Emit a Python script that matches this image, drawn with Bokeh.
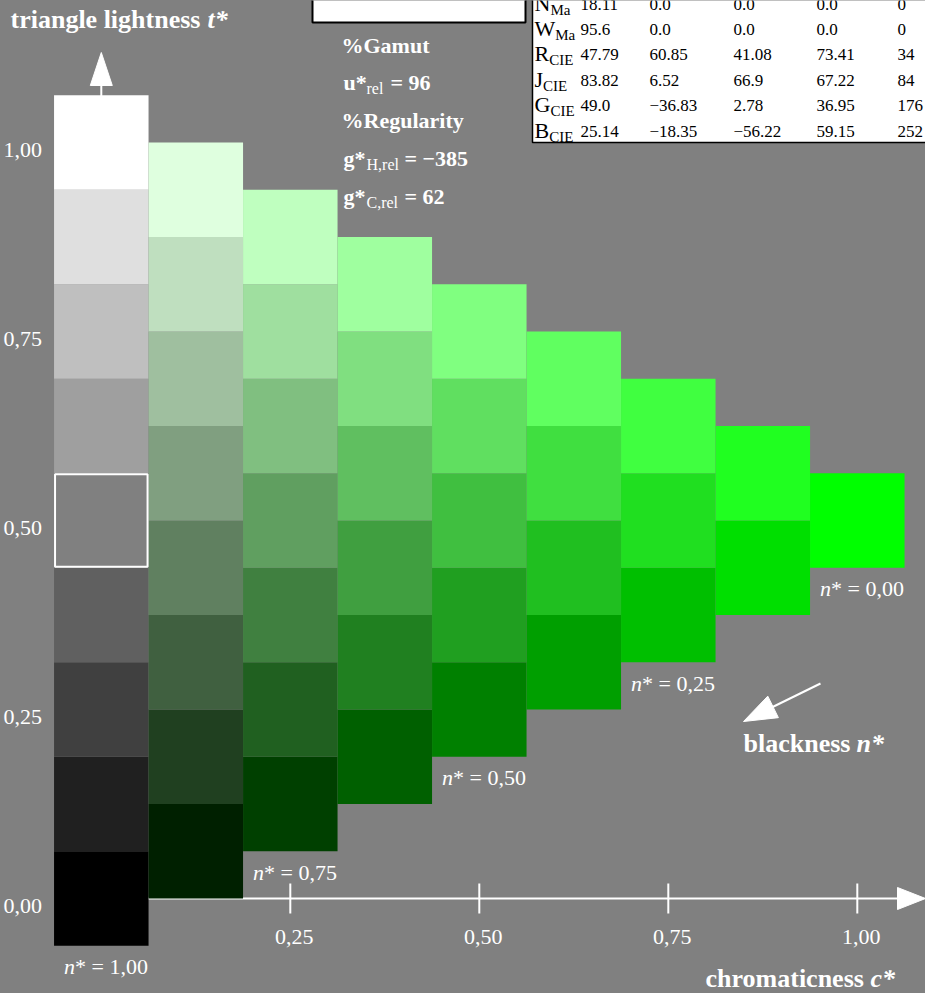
from bokeh.plotting import figure
from bokeh.models import Range1d
from bokeh.embed import file_html
from bokeh.resources import INLINE
from bokeh.core.properties import value

# ---------------- data ----------------
steps = 8
chroma_levels = [0.0, 0.125, 0.25, 0.375, 0.5, 0.625, 0.75, 0.875, 1.0]
white_levels = [0.0, 0.125, 0.25, 0.375, 0.5, 0.625, 0.75, 0.875, 1.0]
hue_rgb = [0, 255, 0]
highlight_c, highlight_t = 0.0, 0.5
c_ticks = [0.25, 0.5, 0.75, 1.0]
c_tick_labels = ["0,25", "0,50", "0,75", "1,00"]
t_ticks = [0.0, 0.25, 0.5, 0.75, 1.0]
t_tick_labels = ["0,00", "0,25", "0,50", "0,75", "1,00"]
n_marks = [1.0, 0.75, 0.5, 0.25, 0.0]
n_mark_labels = ["1,00", "0,75", "0,50", "0,25", "0,00"]
table_letters = ["N", "W", "R", "J", "G", "B"]
table_subs = ["Ma", "Ma", "CIE", "CIE", "CIE", "CIE"]
table_L = ["18.11", "95.6", "47.79", "83.82", "49.0", "25.14"]
table_a = ["0.0", "0.0", "60.85", "6.52", "\u221236.83", "\u221218.35"]
table_b = ["0.0", "0.0", "41.08", "66.9", "2.78", "\u221256.22"]
table_C = ["0.0", "0.0", "73.41", "67.22", "36.95", "59.15"]
table_h = ["0", "0", "34", "84", "176", "252"]
gamut_u = "96"
reg_gH = "\u2212385"
reg_gC = "62"

# ---------------- geometry ----------------
W, H = 925, 993
SCALE = 756.0      # px per unit
C0_PX = 100.8      # screen x of c* = 0
T0_PX = 898.0      # screen y of t* = 0
PX = 1.0 / SCALE
BASE_FIX = 0.33    # svg baseline correction (em)


def X(px):
    return (px - C0_PX) / SCALE


def Y(py):
    return (T0_PX - py) / SCALE


def fix(size):
    return BASE_FIX * size * PX


BG = "#808080"
FONT = value("Liberation Serif")

p = figure(width=W, height=H,
           x_range=Range1d(X(0), X(W)), y_range=Range1d(Y(H), Y(0)),
           output_backend="svg", toolbar_location=None,
           x_axis_location=None, y_axis_location=None,
           min_border=0, background_fill_color=BG, border_fill_color=BG,
           outline_line_color=None)
p.grid.visible = False

# x axis line (behind cells)
p.segment(x0=[0.0], y0=[0.0], x1=[X(900)], y1=[0.0], line_color="white", line_width=2)

# ---------------- cells ----------------
cell = 1.0 / steps
cx, ct, ccol = [], [], []
for c in chroma_levels:
    for w in white_levels:
        if w + c > 1.0 + 1e-9:
            continue
        t = w + c / 2.0
        rgb = [int(round(min(255, w * 255 + c * h))) for h in hue_rgb]
        cx.append(c)
        ct.append(t)
        ccol.append("#%02x%02x%02x" % tuple(rgb))
p.rect(x=cx, y=ct, width=cell, height=cell, fill_color=ccol, line_color=None)
p.rect(x=[highlight_c], y=[highlight_t], width=cell - 2 * PX, height=cell - 2 * PX,
       fill_color=None, line_color="white", line_width=2)

# ticks
p.segment(x0=c_ticks, y0=[-15 * PX] * 4, x1=c_ticks, y1=[15 * PX] * 4,
          line_color="white", line_width=2)
p.text(x=[c + 4 * PX for c in c_ticks], y=[-46 * PX + fix(22)] * 4, text=c_tick_labels,
       text_font=FONT, text_font_size="22px", text_color="white",
       text_align="center", text_baseline="alphabetic")
p.text(x=[X(3)] * 5, y=[t - 15 * PX + fix(22) for t in t_ticks], text=t_tick_labels,
       text_font=FONT, text_font_size="22px", text_color="white",
       text_align="left", text_baseline="alphabetic")


def head(tip, direction, length, width):
    (tx, ty), (dx, dy) = tip, direction
    n = (dx * dx + dy * dy) ** 0.5
    dx, dy = dx / n, dy / n
    bx, by = tx - dx * length, ty - dy * length
    px_, py_ = -dy, dx
    pts = [(tx, ty), (bx + px_ * width / 2, by + py_ * width / 2),
           (bx - px_ * width / 2, by - py_ * width / 2)]
    return [X(a) for a, b in pts], [Y(b) for a, b in pts]


# arrow heads
hx, hy = [], []
for tip, d, L, Wd in [((925, T0_PX), (1, 0), 28, 22),
                      ((C0_PX, 52), (0, -1), 33, 22),
                      ((743, 721), (-77, 38), 33, 24)]:
    a, b = head(tip, d, L, Wd)
    hx.append(a)
    hy.append(b)
p.patches(xs=hx, ys=hy, fill_color="white", line_color="white", line_width=1)
p.segment(x0=[0.0, X(820)], y0=[Y(96), Y(683)], x1=[0.0, X(765)], y1=[Y(80), Y(710)],
          line_color="white", line_width=2)

# n* labels
nx = [(1.0 - n) - cell / 2 + 10 * PX for n in n_marks]
ny = [(1.0 - n) / 2 - cell / 2 - 28.5 * PX + fix(22) for n in n_marks]
p.text(x=nx, y=ny, text=["n"] * 5, text_font=FONT, text_font_size="22px",
       text_font_style="italic", text_color="white", text_baseline="alphabetic")
p.text(x=[x + 11 * PX for x in nx], y=ny, text=["* = " + s for s in n_mark_labels],
       text_font=FONT, text_font_size="22px", text_color="white", text_baseline="alphabetic")


def label(x, y, s, size=26, style="bold", color="white"):
    p.text(x=[X(x)], y=[Y(y) + fix(size)], text=[s], text_font=FONT,
           text_font_size="%dpx" % size, text_font_style=style, text_color=color,
           text_align="left", text_baseline="alphabetic")


# axis titles
label(10, 28, "triangle lightness ")
label(207, 28, "t*", style="bold italic")
label(743, 752, "blackness ")
label(856, 752, "n*", style="bold italic")
label(705, 987, "chromaticness ")
label(870, 987, "c*", style="bold italic")

# gamut / regularity texts
label(341, 52, "%Gamut", size=22)
label(343, 89, "u*", size=22)
label(366, 93, "rel", size=16, style="normal")
label(390, 89, "= " + gamut_u, size=22)
label(341, 127, "%Regularity", size=22)
label(343, 165, "g*", size=22)
label(366, 169, "H,rel", size=16, style="normal")
label(404, 165, "= " + reg_gH, size=22)
label(343, 203, "g*", size=22)
label(366, 207, "C,rel", size=16, style="normal")
label(404, 203, "= " + reg_gC, size=22)

# boxes top
p.quad(left=[X(312), X(532)], right=[X(525), X(940)], top=[Y(-10), Y(-10)],
       bottom=[Y(22), Y(142)], fill_color="white", line_color="black",
       line_width=[2, 1.5])

# table
row_base = [10, 35, 60, 86, 111, 137]
cap_w = {"N": 0.722, "W": 0.944, "R": 0.667, "J": 0.389, "G": 0.722, "B": 0.667}
ty = [Y(b) + fix(17) for b in row_base]
p.text(x=[X(534)] * 6, y=[Y(b) + fix(22) for b in row_base], text=table_letters,
       text_font=FONT, text_font_size="22px", text_color="black", text_baseline="alphabetic")
p.text(x=[X(534 + cap_w[l] * 22) for l in table_letters],
       y=[Y(b + 4) + fix(15) for b in row_base],
       text=table_subs, text_font=FONT, text_font_size="15px", text_color="black",
       text_baseline="alphabetic")
for colx, vals in zip([580, 649, 733, 816, 897], [table_L, table_a, table_b, table_C, table_h]):
    p.text(x=[X(colx)] * 6, y=ty, text=vals, text_font=FONT, text_font_size="17px",
           text_color="black", text_baseline="alphabetic")

html = file_html(p, INLINE)
html = html.replace("</head>", "<style>html,body{margin:0;padding:0;background:#808080;overflow:hidden}</style></head>")
open("out.html", "w").write(html)
